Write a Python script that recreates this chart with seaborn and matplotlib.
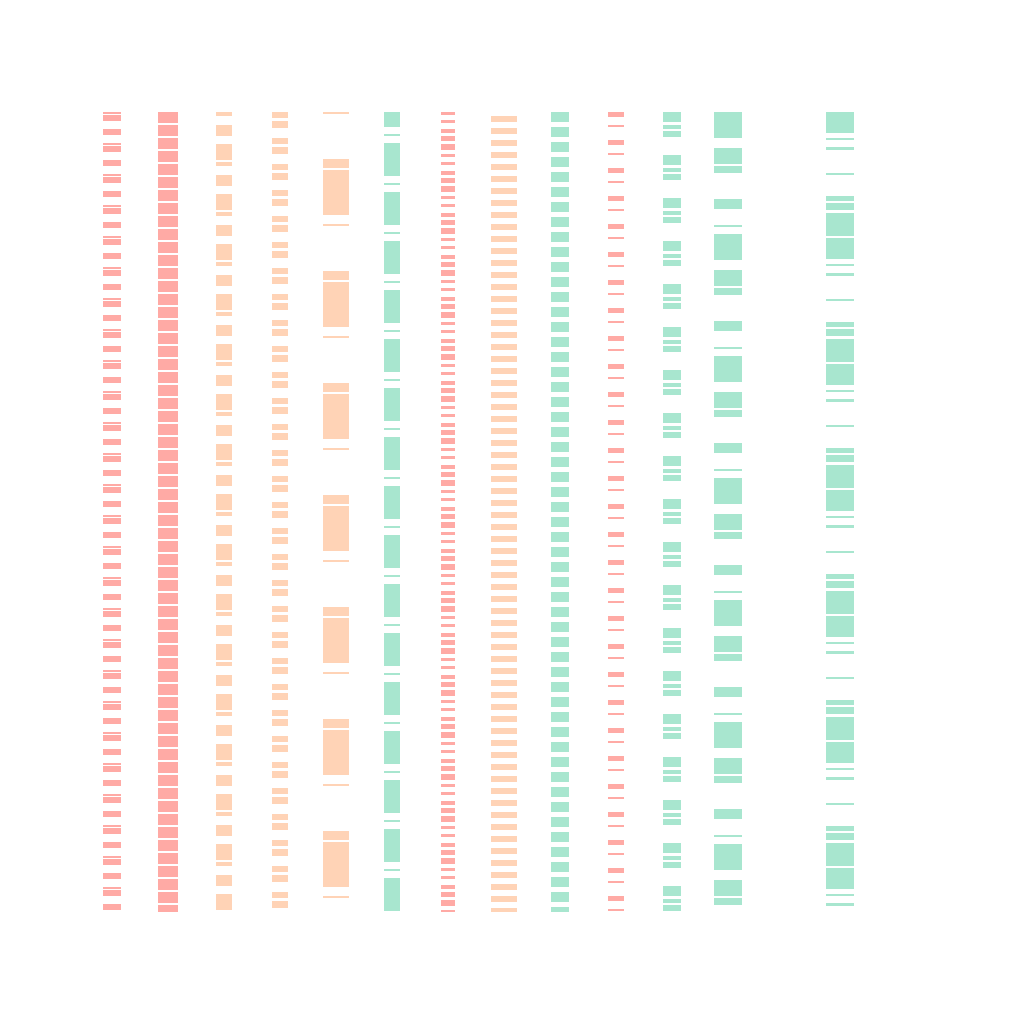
import pandas as pd
import seaborn as sns
import matplotlib.pyplot as plt

# Strip positions (x) and colour group of each strip
positions = [0, 1, 2, 3, 4, 5, 6, 7, 8, 9, 10, 11, 13]
groups = ["rose", "rose", "peach", "peach", "peach", "mint", "rose",
          "peach", "mint", "rose", "mint", "mint", "mint"]
# every strip runs from the top (1) down to the bottom (0)
y_from = [1.0] * len(positions)
y_to = [0.0] * len(positions)

palette = {"rose": "#FFAAA5", "peach": "#FFD3B6", "mint": "#A8E6CF"}

# Line styles, in pixels (converted to points below)
widths_px = [18, 20, 16, 16, 26, 16, 14, 26, 18, 16, 18, 28, 28]
dashes_px = [
    [2, 1, 6, 8, 6, 8],
    [11, 2],
    [4, 9, 11, 8, 16, 2],
    [6, 3, 7, 10],
    [2, 45, 9, 2, 45, 9],
    [33, 7, 2, 7],
    [3, 5, 3, 6, 4, 3, 5, 3, 6, 4],
    [6, 6],
    [10, 5],
    [5, 8, 2, 13],
    [10, 3, 4, 2, 6, 18],
    [26, 10, 16, 2, 7, 26, 10, 16, 2, 7],
    [21, 5, 2, 7, 3, 23, 2, 21, 5, 2, 7, 3, 23, 2],
]
offsets_px = [0, 0, 0, 0, 0, 18, 0, 8, 0, 0, 0, 0, 0]

PX = 72 / 100  # pixel -> point at dpi 100
plt.rcParams['lines.scale_dashes'] = False

rows = []
for i, (x, g, y0, y1) in enumerate(zip(positions, groups, y_from, y_to)):
    rows.append({"strip": i, "x": x, "y": y0, "group": g})
    rows.append({"strip": i, "x": x, "y": y1, "group": g})
df = pd.DataFrame(rows)

fig = plt.figure(figsize=(10.24, 10.24), dpi=100)
ax = fig.add_axes([0, 0, 1, 1])

for i, sub in df.groupby("strip"):
    sns.lineplot(data=sub, x="x", y="y", sort=False, estimator=None,
                 color=palette[groups[i]], linewidth=widths_px[i] * PX,
                 linestyle=(offsets_px[i] * PX, [d * PX for d in dashes_px[i]]),
                 ax=ax)

# x=0 at 112px, 56px per unit; y in [0, 1] spans 912px..112px
ax.set_xlim(-112 / 56, (1024 - 112) / 56)
ax.set_ylim(-112 / 800, 1 + 112 / 800)
ax.axis("off")

fig.savefig("out.png", dpi=100)
